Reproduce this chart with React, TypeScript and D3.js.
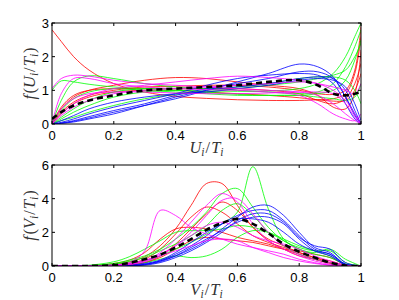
import React from 'react';
import * as d3 from 'd3';

// ---------- data: top panel f(U_i/T_i) ----------
const U_X = [0, 0.03, 0.07, 0.12, 0.2, 0.3, 0.4, 0.5, 0.6, 0.7, 0.8, 0.86, 0.91, 0.95, 0.98, 1];
const U_RED = [
  [2.8, 2.45, 2.0, 1.6, 1.2, 0.95, 0.82, 0.76, 0.72, 0.7, 0.7, 0.72, 0.75, 0.9, 1.5, 2.6],
  [0, 0.45, 0.8, 1.0, 1.15, 1.3, 1.38, 1.35, 1.25, 1.15, 1.05, 0.85, 0.5, 0.45, 0.9, 2.2],
  [0, 0.5, 0.85, 1.0, 1.05, 1.05, 1.05, 1.05, 1.05, 1.0, 0.9, 0.7, 0.6, 0.75, 1.2, 1.8],
  [0, 0.3, 0.6, 0.8, 0.95, 1.0, 1.0, 0.95, 0.9, 0.85, 0.78, 0.72, 0.68, 0.7, 1.0, 1.5],
  [0, 0.35, 0.65, 0.85, 1.0, 1.1, 1.12, 1.15, 1.15, 1.1, 1.0, 0.9, 0.88, 1.0, 1.6, 2.9],
];
const U_GREEN = [
  [1.0, 1.28, 1.25, 1.18, 1.1, 1.05, 1.0, 0.98, 0.97, 0.98, 1.05, 1.2, 1.5, 2.0, 2.6, 3.0],
  [0, 0.7, 1.25, 1.43, 1.35, 1.2, 1.1, 1.05, 1.0, 0.95, 0.9, 0.95, 1.2, 1.7, 2.3, 2.8],
  [0, 0.15, 0.35, 0.55, 0.8, 0.95, 1.0, 0.95, 0.88, 0.85, 0.85, 0.9, 1.0, 1.3, 1.9, 2.5],
  [0, 0.2, 0.45, 0.7, 0.95, 1.05, 1.05, 1.05, 1.1, 1.2, 1.35, 1.4, 1.4, 1.3, 1.0, 0.6],
  [0, 0.4, 0.75, 0.95, 1.05, 1.0, 0.95, 0.9, 0.85, 0.85, 0.85, 0.8, 0.75, 0.7, 0.8, 1.2],
  [0, 0.1, 0.2, 0.35, 0.55, 0.75, 0.88, 0.95, 1.05, 1.15, 1.25, 1.35, 1.45, 1.6, 2.0, 2.4],
];
const U_BLUE = [
  [0, 0.02, 0.08, 0.18, 0.35, 0.55, 0.75, 1.0, 1.25, 1.5, 1.78, 1.7, 1.4, 0.8, 0.25, 0],
  [0, 0.03, 0.1, 0.22, 0.4, 0.6, 0.85, 1.05, 1.2, 1.35, 1.55, 1.55, 1.35, 0.8, 0.3, 0],
  [0, 0.05, 0.15, 0.3, 0.5, 0.7, 0.9, 1.15, 1.35, 1.45, 1.5, 1.45, 1.2, 0.6, 0.15, 0],
  [0, 0.02, 0.06, 0.15, 0.3, 0.55, 0.8, 1.0, 1.1, 1.2, 1.35, 1.4, 1.35, 1.0, 0.4, 0],
  [0, 0.1, 0.25, 0.45, 0.65, 0.8, 0.9, 0.95, 1.05, 1.15, 1.3, 1.35, 1.3, 1.1, 0.6, 0.1],
];
const U_MAGENTA = [
  [1.05, 1.35, 1.45, 1.42, 1.3, 1.2, 1.15, 1.1, 1.05, 1.0, 0.95, 0.85, 0.6, 0.3, 0.1, 0],
  [0, 0.9, 1.35, 1.35, 1.2, 1.1, 1.05, 1.02, 1.0, 0.95, 0.85, 0.6, 0.3, 0.15, 0.1, 0.3],
  [0, 0.3, 0.6, 0.85, 1.05, 1.15, 1.25, 1.35, 1.42, 1.38, 1.3, 1.2, 1.0, 0.7, 0.3, 0],
  [0, 0.45, 0.75, 0.9, 0.95, 0.95, 0.92, 0.9, 0.9, 0.92, 0.95, 0.95, 0.9, 0.6, 0.2, 0],
  [0, 0.25, 0.5, 0.7, 0.9, 1.0, 1.05, 1.1, 1.15, 1.2, 1.25, 1.2, 1.1, 1.0, 0.9, 1.2],
];
const U_MEAN = [0.15, 0.35, 0.55, 0.7, 0.85, 1.0, 1.05, 1.1, 1.15, 1.25, 1.3, 1.15, 0.9, 0.85, 0.9, 0.95];

// ---------- data: bottom panel f(V_i/T_i) ----------
const V_X = [0, 0.1, 0.2, 0.25, 0.3, 0.35, 0.4, 0.45, 0.5, 0.55, 0.6, 0.65, 0.7, 0.75, 0.8, 0.85, 0.9, 0.95, 1.0];
const V_RED = [
  [0, 0, 0.08, 0.25, 0.55, 1.2, 2.2, 3.6, 4.9, 4.9, 3.6, 2.3, 1.6, 1.2, 0.8, 0.5, 0.2, 0, 0],
  [0, 0, 0.15, 0.35, 0.8, 1.6, 2.2, 2.3, 2.2, 2.0, 1.7, 1.5, 1.3, 1.0, 0.7, 0.4, 0.15, 0, 0],
  [0, 0, 0.05, 0.15, 0.4, 1.0, 1.9, 2.9, 3.5, 3.2, 2.5, 1.8, 1.4, 1.1, 0.8, 0.5, 0.3, 0.05, 0],
  [0, 0, 0.02, 0.08, 0.2, 0.6, 1.3, 2.2, 3.1, 3.8, 3.3, 2.3, 1.5, 1.0, 0.6, 0.4, 0.2, 0, 0],
  [0, 0, 0.02, 0.07, 0.2, 0.5, 1.0, 1.5, 1.7, 1.6, 1.5, 1.4, 1.2, 1.0, 0.9, 0.7, 0.5, 0.1, 0],
];
const V_GREEN = [
  [0, 0, 0.08, 0.18, 0.3, 0.6, 1.0, 1.4, 1.9, 2.5, 3.2, 5.9, 3.4, 1.6, 1.0, 0.7, 0.5, 0.1, 0],
  [0, 0, 0.15, 0.35, 0.6, 1.0, 1.6, 2.3, 3.2, 4.3, 4.6, 3.5, 2.3, 1.5, 1.1, 0.9, 0.9, 0.2, 0],
  [0, 0.02, 0.25, 0.55, 1.0, 1.5, 2.0, 2.1, 2.1, 2.2, 2.4, 2.3, 2.0, 1.5, 1.0, 0.8, 1.0, 0.4, 0],
  [0, 0, 0.08, 0.12, 0.2, 0.4, 0.6, 0.5, 0.6, 1.0, 1.7, 2.1, 2.0, 1.6, 1.2, 0.9, 0.6, 0.1, 0],
  [0, 0, 0.12, 0.28, 0.5, 0.9, 1.3, 1.8, 2.4, 3.3, 3.7, 3.0, 2.0, 1.2, 0.7, 0.4, 0.2, 0, 0],
];
const V_BLUE = [
  [0, 0, 0, 0.02, 0.1, 0.3, 0.6, 1.0, 1.5, 2.2, 2.9, 3.5, 3.6, 3.0, 2.0, 1.1, 0.8, 0.1, 0],
  [0, 0, 0, 0.02, 0.1, 0.3, 0.7, 1.2, 1.8, 2.5, 3.0, 3.3, 3.3, 2.7, 1.8, 1.0, 0.7, 0.1, 0],
  [0, 0, 0, 0.01, 0.05, 0.2, 0.5, 0.9, 1.4, 2.0, 2.7, 3.1, 3.1, 2.6, 1.7, 1.2, 1.0, 0.2, 0],
  [0, 0, 0, 0.02, 0.08, 0.25, 0.6, 1.1, 1.6, 2.1, 2.6, 2.9, 2.9, 2.5, 1.6, 0.9, 0.6, 0.05, 0],
  [0, 0, 0.01, 0.05, 0.15, 0.35, 0.8, 1.4, 2.0, 2.5, 2.8, 2.8, 2.6, 2.0, 1.3, 0.9, 0.7, 0.1, 0],
];
const V_MAGENTA = [
  [0, 0, 0.06, 0.2, 0.9, 3.3, 3.0, 2.3, 1.9, 1.6, 1.3, 1.1, 0.9, 0.7, 0.4, 0.2, 0.05, 0, 0],
  [0, 0, 0.04, 0.12, 0.3, 0.8, 1.6, 2.6, 3.6, 4.3, 3.8, 2.5, 1.5, 1.0, 0.6, 0.3, 0.1, 0, 0],
  [0, 0, 0.03, 0.1, 0.25, 0.6, 1.2, 2.0, 3.0, 3.9, 4.0, 3.1, 2.0, 1.2, 0.7, 0.4, 0.2, 0, 0],
  [0, 0, 0.06, 0.15, 0.35, 0.6, 0.9, 1.2, 1.5, 1.6, 1.5, 1.1, 0.8, 0.5, 0.3, 0.15, 0.05, 0, 0],
  [0, 0, 0.03, 0.1, 0.3, 0.7, 1.2, 1.8, 2.4, 2.6, 2.3, 1.8, 1.5, 1.3, 1.0, 0.6, 0.3, 0.05, 0],
];
const V_MEAN = [0, 0, 0.05, 0.18, 0.4, 0.67, 1.1, 1.6, 2.15, 2.55, 2.8, 2.5, 1.95, 1.3, 0.85, 0.5, 0.2, 0.02, 0];

const X_TICKS = [0, 0.2, 0.4, 0.6, 0.8, 1];
const X_TICK_LABELS = ['0', '0.2', '0.4', '0.6', '0.8', '1'];
const U_Y_TICKS = [0, 1, 2, 3];
const V_Y_TICKS = [0, 2, 4, 6];

const RED = '#ff0000';
const GREEN = '#00ff00';
const BLUE = '#0000ff';
const MAGENTA = '#ff00ff';

const LEFT = 52;
const RIGHT = 361;
const TICK = 3;
const SANS = 'Liberation Sans, Arial, sans-serif';
const SERIF = 'Liberation Serif, Times New Roman, serif';
const LABEL_SIZE = 16.5;

type PanelProps = {
  id: string;
  top: number;
  bottom: number;
  yMax: number;
  yTicks: number[];
  xs: number[];
  groups: { color: string; series: number[][] }[];
  mean: number[];
  letter: string;
};

function Label({ letter, fn, size }: { letter: string; fn: boolean; size: number }) {
  const sub = { fontSize: size * 0.7 } as React.CSSProperties;
  return (
    <>
      {fn ? <tspan fontStyle="italic">f</tspan> : null}
      {fn ? <tspan dx={1.5}>(</tspan> : null}
      <tspan fontStyle="italic">{letter}</tspan>
      <tspan fontStyle="italic" dy={3} style={sub}>i</tspan>
      <tspan dx={1} dy={-3}>/</tspan>
      <tspan fontStyle="italic" dx={1}>T</tspan>
      <tspan fontStyle="italic" dy={3} style={sub}>i</tspan>
      {fn ? <tspan dx={1} dy={-3}>)</tspan> : null}
    </>
  );
}

function Panel({ id, top, bottom, yMax, yTicks, xs, groups, mean, letter }: PanelProps) {
  const x = d3.scaleLinear().domain([0, 1]).range([LEFT, RIGHT]);
  const y = d3.scaleLinear().domain([0, yMax]).range([bottom, top]);
  const line = d3
    .line<number>()
    .x((_, i) => x(xs[i]))
    .y((d) => y(d))
    .curve(d3.curveCatmullRom.alpha(0.5));
  const cy = (top + bottom) / 2;
  return (
    <g>
      <defs>
        <clipPath id={id}>
          <rect x={LEFT} y={top} width={RIGHT - LEFT} height={bottom - top} />
        </clipPath>
      </defs>
      <rect x={LEFT} y={top} width={RIGHT - LEFT} height={bottom - top} fill="#fff" />
      <g clipPath={`url(#${id})`}>
        {groups.map((g, gi) =>
          g.series.map((s, si) => (
            <path key={`${gi}-${si}`} d={line(s) || ''} fill="none" stroke={g.color} strokeWidth={0.8} />
          ))
        )}
        <path d={line(mean) || ''} fill="none" stroke="#000" strokeWidth={2.6} strokeDasharray="6,4" />
      </g>
      <rect x={LEFT} y={top} width={RIGHT - LEFT} height={bottom - top} fill="none" stroke="#000" strokeWidth={1} />
      {X_TICKS.map((t, i) => (
        <g key={`x${i}`}>
          <line x1={x(t)} x2={x(t)} y1={bottom} y2={bottom - TICK} stroke="#000" />
          <line x1={x(t)} x2={x(t)} y1={top} y2={top + TICK} stroke="#000" />
          <text x={x(t)} y={bottom + 16} textAnchor="middle" fontFamily={SANS} fontSize={13}>
            {X_TICK_LABELS[i]}
          </text>
        </g>
      ))}
      {yTicks.map((t, i) => (
        <g key={`y${i}`}>
          <line x1={LEFT} x2={LEFT + TICK} y1={y(t)} y2={y(t)} stroke="#000" />
          <line x1={RIGHT} x2={RIGHT - TICK} y1={y(t)} y2={y(t)} stroke="#000" />
          <text x={LEFT - 3} y={y(t) + 5} textAnchor="end" fontFamily={SANS} fontSize={13}>
            {t}
          </text>
        </g>
      ))}
      <text x={(LEFT + RIGHT) / 2} y={bottom + 29} textAnchor="middle" fontFamily={SERIF} fontSize={LABEL_SIZE} fill="#333">
        <Label letter={letter} fn={false} size={LABEL_SIZE} />
      </text>
      <text
        transform={`translate(35,${cy}) rotate(-90)`}
        textAnchor="middle"
        fontFamily={SERIF}
        fontSize={LABEL_SIZE}
        fill="#333"
      >
        <Label letter={letter} fn={true} size={LABEL_SIZE} />
      </text>
    </g>
  );
}

export default function App() {
  return (
    <svg width={399} height={300} style={{ position: 'absolute', left: 0, top: 0, background: '#fff' }}>
      <rect width={399} height={300} fill="#fff" />
      <Panel
        id="clipU"
        top={23}
        bottom={124}
        yMax={3}
        yTicks={U_Y_TICKS}
        xs={U_X}
        groups={[
          { color: RED, series: U_RED },
          { color: GREEN, series: U_GREEN },
          { color: BLUE, series: U_BLUE },
          { color: MAGENTA, series: U_MAGENTA },
        ]}
        mean={U_MEAN}
        letter="U"
      />
      <Panel
        id="clipV"
        top={165}
        bottom={266}
        yMax={6}
        yTicks={V_Y_TICKS}
        xs={V_X}
        groups={[
          { color: RED, series: V_RED },
          { color: GREEN, series: V_GREEN },
          { color: BLUE, series: V_BLUE },
          { color: MAGENTA, series: V_MAGENTA },
        ]}
        mean={V_MEAN}
        letter="V"
      />
    </svg>
  );
}
